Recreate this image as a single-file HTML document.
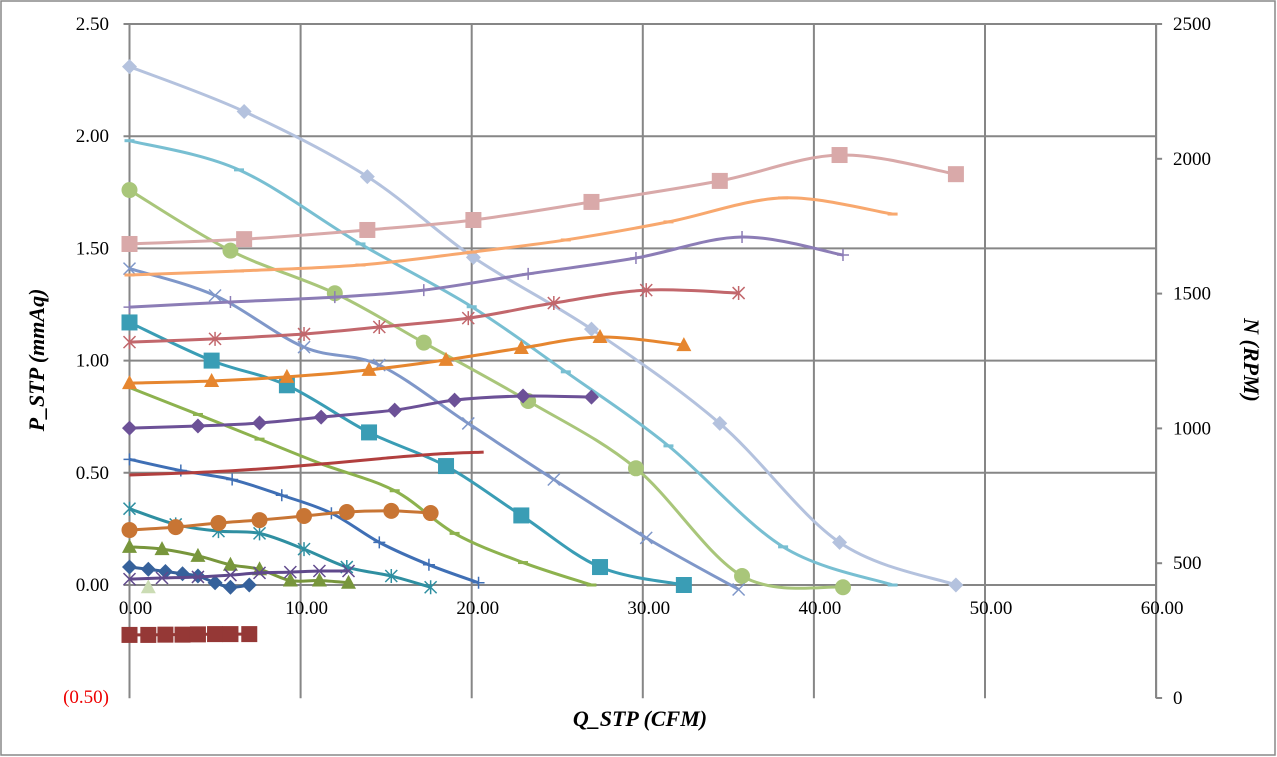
<!DOCTYPE html>
<html><head><meta charset="utf-8"><style>
body{margin:0;background:#fff}
svg{display:block;font-family:"Liberation Serif",serif}
</style></head><body>
<svg id="c" width="1277" height="757">
<rect x="1" y="1" width="1274" height="754" fill="#fff" stroke="#888" stroke-width="1.5"/>
<g id="grid"></g>
<g id="series"></g>
<g id="ticks"></g>
<text x="44" y="360" font-size="22" font-weight="bold" font-style="italic" text-anchor="middle" transform="rotate(-90 44 360)">P_STP (mmAq)</text>
<text x="1244" y="360" font-size="22" font-weight="bold" font-style="italic" text-anchor="middle" transform="rotate(90 1244 360)">N (RPM)</text>
<text x="640" y="726" font-size="22" font-weight="bold" font-style="italic" text-anchor="middle">Q_STP (CFM)</text>
</svg>
<script>
const xTicks=[0,10,20,30,40,50,60];
const yTicks=[-0.5,0,0.5,1,1.5,2,2.5];
const y2Ticks=[0,500,1000,1500,2000,2500];
// pressure series
const pA_x=[0,6.7,13.9,20.1,27,34.5,41.5,48.3], pA_y=[2.31,2.11,1.82,1.46,1.14,0.72,0.19,0.0];
const pB_x=[0,6.4,13.5,20,25.5,31.5,38.2,44.6], pB_y=[1.98,1.85,1.52,1.24,0.95,0.62,0.17,0.0];
const pC_x=[0,5.9,12,17.2,23.3,29.6,35.8,41.7], pC_y=[1.76,1.49,1.30,1.08,0.82,0.52,0.04,-0.01];
const pD_x=[0,5,10.2,14.6,19.8,24.8,30.2,35.6], pD_y=[1.41,1.29,1.06,0.98,0.72,0.47,0.21,-0.02];
const pE_x=[0,4.8,9.2,14,18.5,22.9,27.5,32.4], pE_y=[1.17,1.00,0.89,0.68,0.53,0.31,0.08,0.0];
const pF_x=[0,4,7.6,11.2,15.5,19,23,27], pF_y=[0.88,0.76,0.65,0.54,0.42,0.23,0.10,0.0];
const pG_x=[0,3,6,8.9,11.8,14.6,17.5,20.4], pG_y=[0.56,0.51,0.47,0.40,0.32,0.19,0.09,0.01];
const pH_x=[0,2.7,5.2,7.6,10.2,12.7,15.3,17.6], pH_y=[0.34,0.27,0.24,0.23,0.16,0.08,0.04,-0.01];
const pI_x=[0,1.9,4,5.9,7.6,9.4,11.1,12.8], pI_y=[0.17,0.16,0.13,0.09,0.07,0.02,0.02,0.01];
const pJ_x=[0,1.1,2.1,3.1,4,5,5.9,7], pJ_y=[0.08,0.07,0.06,0.05,0.04,0.01,-0.01,0.0];
const pK_x=[1.1], pK_y=[-0.01];
// rpm series
const nA=[1684,1702,1736,1773,1840,1918,2014,1943];
const nB=[1569,1584,1606,1654,1699,1766,1855,1795];
const nC=[1450,1469,1487,1513,1573,1632,1710,1643];
const nD=[1320,1332,1350,1376,1409,1465,1513,1502];
const nE=[1168,1176,1191,1217,1254,1298,1339,1309];
const nF=[1001,1009,1020,1042,1068,1105,1120,1116];
const nG_x=[0,3,6,9,12,15,18,20.7], nG=[827,834,843,856,872,890,905,912];
const nH=[623,634,649,660,675,690,694,686];
const nI=[441,445,449,456,464,467,471,471];
const nJ=[234,234,235,235,236,237,237,237];

const X=v=>129.5+v*17.11, Y=v=>585-v*224.4, Y2=v=>698-v*0.2696;
const NS='http://www.w3.org/2000/svg';
function mk(t,a,p){const e=document.createElementNS(NS,t);for(const k in a)e.setAttribute(k,a[k]);p.appendChild(e);return e;}
const grid=document.getElementById('grid'),ser=document.getElementById('series'),tk=document.getElementById('ticks');
xTicks.forEach(v=>{const l=mk('line',{x1:X(v),x2:X(v),y1:Y(2.5),y2:Y(-0.5)+1,stroke:'#868686','stroke-width':2},grid);


const t=mk('text',{x:X(v)+6,y:Y(0)+29,'font-size':19,'text-anchor':'middle'},tk);t.textContent=v.toFixed(2);

});
yTicks.forEach(v=>{if(v>=0){const l=mk('line',{x1:X(0)-6,x2:X(60),y1:Y(v),y2:Y(v),stroke:'#868686','stroke-width':2},grid);

}
const t=mk('text',{x:109,y:Y(v)+6,'font-size':19,'text-anchor':'end',fill:v<0?'#e00':'#000'},tk);t.textContent=v<0?'('+(-v).toFixed(2)+')':v.toFixed(2);

});
y2Ticks.forEach(v=>{const l=mk('line',{x1:X(60),x2:X(60)+6,y1:Y2(v),y2:Y2(v),stroke:'#868686','stroke-width':2},grid);


const t=mk('text',{x:1173,y:Y2(v)+6,'font-size':19},tk);t.textContent=v;

});
{const l=mk('line',{x1:X(60),x2:X(60),y1:Y2(2500),y2:Y2(0),stroke:'#868686','stroke-width':2},grid);

}

function path(pts){if(pts.length<2)return '';let d='M'+pts[0][0]+','+pts[0][1];
for(let i=0;i<pts.length-1;i++){const p0=pts[i-1]||pts[i],p1=pts[i],p2=pts[i+1],p3=pts[i+2]||p2;
const c1=[p1[0]+(p2[0]-p0[0])/6,p1[1]+(p2[1]-p0[1])/6],c2=[p2[0]-(p3[0]-p1[0])/6,p2[1]-(p3[1]-p1[1])/6];
d+=' C'+c1+' '+c2+' '+p2;}return d;}
function marker(g,type,x,y,c){let e;
if(type==='diamond')e=mk('polygon',{points:`${x},${y-7.5} ${x+7.5},${y} ${x},${y+7.5} ${x-7.5},${y}`,fill:c},g);
else if(type==='square')e=mk('rect',{x:x-8,y:y-8,width:16,height:16,fill:c},g);
else if(type==='circle')e=mk('circle',{cx:x,cy:y,r:8,fill:c},g);
else if(type==='triangle')e=mk('polygon',{points:`${x},${y-8} ${x+7.5},${y+6} ${x-7.5},${y+6}`,fill:c},g);
else if(type==='dash')e=mk('rect',{x:x-5,y:y-1.5,width:10,height:3,fill:c},g);
else if(type==='plus')e=mk('path',{d:`M${x-6},${y}H${x+6}M${x},${y-6}V${y+6}`,stroke:c,'stroke-width':1.5},g);
else if(type==='x')e=mk('path',{d:`M${x-6},${y-6}L${x+6},${y+6}M${x-6},${y+6}L${x+6},${y-6}`,stroke:c,'stroke-width':1.5},g);
else if(type==='star')e=mk('path',{d:`M${x-6},${y-6}L${x+6},${y+6}M${x-6},${y+6}L${x+6},${y-6}M${x},${y-7}V${y+7}`,stroke:c,'stroke-width':1.5},g);
if(e){
}}
function series(name,xs,ys,yf,c,m){const g=mk('g',{},ser);


const pts=xs.map((x,i)=>[X(x),yf(ys[i])]);
if(pts.length>1)mk('path',{d:path(pts),fill:'none',stroke:c,'stroke-width':3},g);
if(m)pts.forEach(p=>marker(g,m,p[0],p[1],c));}
series('pressure-curve-a',pA_x,pA_y,Y,'#b4c2de','diamond');
series('pressure-curve-b',pB_x,pB_y,Y,'#78bfd2','dash');
series('pressure-curve-c',pC_x,pC_y,Y,'#a9c67a','circle');
series('pressure-curve-d',pD_x,pD_y,Y,'#7f97c9','x');
series('pressure-curve-e',pE_x,pE_y,Y,'#3a9db5','square');
series('pressure-curve-f',pF_x,pF_y,Y,'#8db24e','dash');
series('pressure-curve-g',pG_x,pG_y,Y,'#3f6fb5','plus');
series('pressure-curve-h',pH_x,pH_y,Y,'#2f8fa1','star');
series('pressure-curve-i',pI_x,pI_y,Y,'#78963c','triangle');
series('pressure-curve-j',pJ_x,pJ_y,Y,'#36619b','diamond');
series('pressure-curve-k',pK_x,pK_y,Y,'#cbdcb4','triangle');
series('rpm-curve-a',pA_x,nA,Y2,'#d9a9a9','square');
series('rpm-curve-b',pB_x,nB,Y2,'#f8a86e','dash');
series('rpm-curve-c',pC_x,nC,Y2,'#8c7db6','plus');
series('rpm-curve-d',pD_x,nD,Y2,'#c2676c','star');
series('rpm-curve-e',pE_x,nE,Y2,'#e6862f','triangle');
series('rpm-curve-f',pF_x,nF,Y2,'#6c5197','diamond');
series('rpm-curve-g',nG_x,nG,Y2,'#b13f3e',null);
series('rpm-curve-h',pH_x,nH,Y2,'#c87534','circle');
series('rpm-curve-i',pI_x,nI,Y2,'#60498c','x');
series('rpm-curve-j',pJ_x,nJ,Y2,'#953836','square');
</script>
</body></html>
